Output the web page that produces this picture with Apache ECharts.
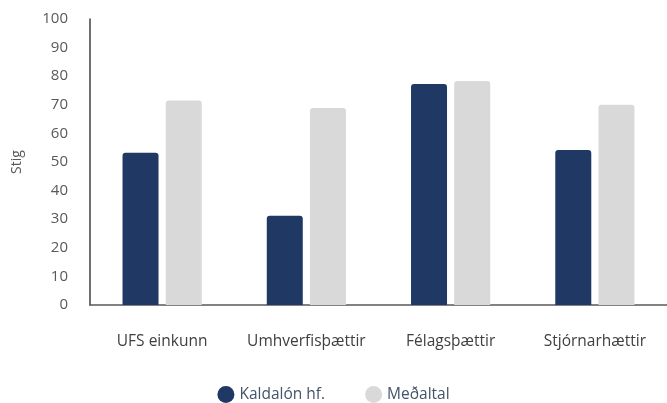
<!DOCTYPE html>
<html>
<head>
<meta charset="utf-8">
<script src="https://cdn.jsdelivr.net/npm/echarts@6/dist/echarts.min.js"></script>
<style>
    html, body { margin: 0; padding: 0; background: #fff; }
    #chart { width: 667px; height: 403px; }
</style>
</head>
<body>
<div id="chart"></div>
<script>
const categories = ['UFS einkunn', 'Umhverfisþættir', 'Félagsþættir', 'Stjórnarhættir'];
const kaldalon = [53.2, 31.2, 77.3, 54.2];
const medaltal = [71.5, 68.9, 78.3, 70.0];
const seriesNames = ['Kaldalón hf.', 'Meðaltal'];

const chart = echarts.init(document.getElementById('chart'));
const font = '"Open Sans", "Noto Sans", sans-serif';

chart.setOption({
    animation: false,
    textStyle: { fontFamily: font },
    grid: { left: 90, right: 0, top: 19, bottom: 98 },
    legend: {
        bottom: 0,
        left: 'center',
        padding: [0, 5, 0, 5],
        icon: 'circle',
        itemWidth: 17,
        itemHeight: 17,
        itemGap: 40,
        textStyle: { color: '#44546a', fontSize: 15.5, fontFamily: font },
        data: seriesNames
    },
    xAxis: {
        type: 'category',
        data: categories,
        axisLine: { lineStyle: { color: '#595959', width: 1.5 } },
        axisTick: { show: false },
        axisLabel: { interval: 0, color: '#404040', fontSize: 15.5, margin: 29, fontFamily: font }
    },
    yAxis: {
        type: 'value',
        min: 0,
        max: 100,
        interval: 10,
        name: 'Stig',
        nameLocation: 'middle',
        nameGap: 66,
        nameTextStyle: { color: '#595959', fontSize: 14, fontFamily: font },
        axisLine: { show: true, lineStyle: { color: '#404040', width: 1.5 } },
        axisTick: { show: false },
        splitLine: { show: false },
        axisLabel: { color: '#595959', fontSize: 15, margin: 22, fontFamily: font }
    },
    series: [
        {
            name: seriesNames[0],
            type: 'bar',
            data: kaldalon,
            barWidth: 36,
            barGap: '20%',
            itemStyle: { color: '#1f3864', borderRadius: [3, 3, 0, 0] }
        },
        {
            name: seriesNames[1],
            type: 'bar',
            data: medaltal,
            barWidth: 36,
            itemStyle: { color: '#d9d9d9', borderRadius: [3, 3, 0, 0] }
        }
    ]
});
</script>
</body>
</html>
